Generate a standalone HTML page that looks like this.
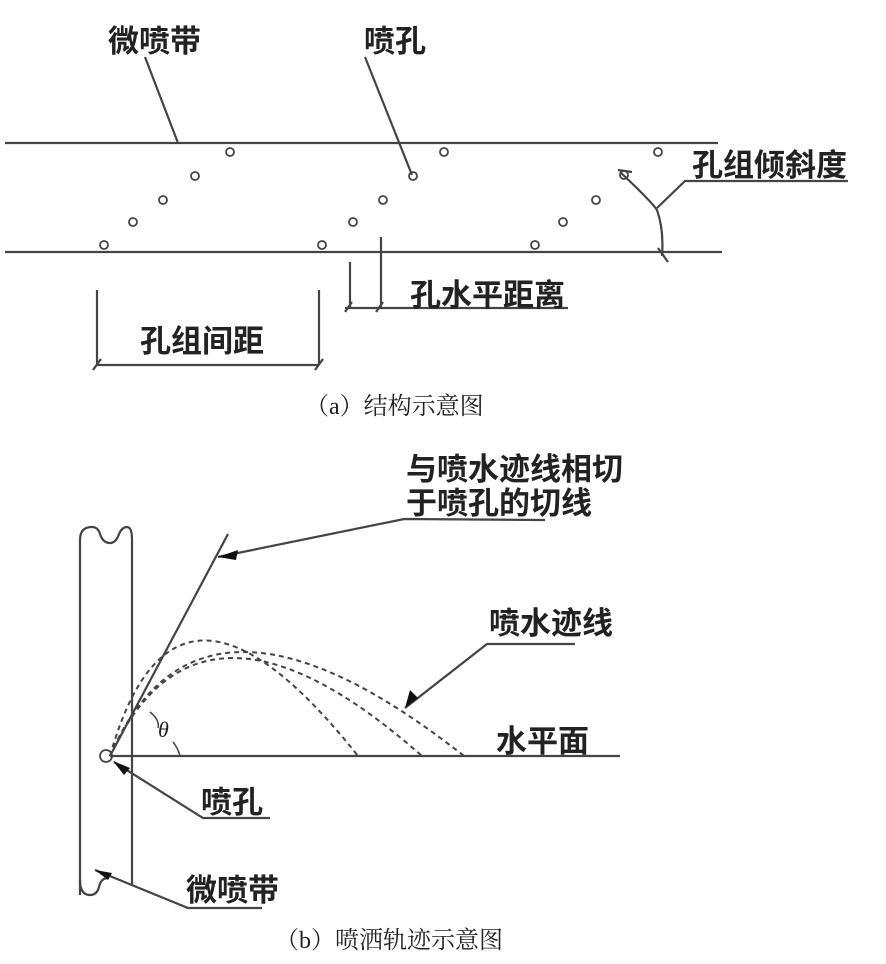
<!DOCTYPE html>
<html><head><meta charset="utf-8"><style>
html,body{margin:0;padding:0;background:#fff;}
svg{display:block;}
.t{font-family:"Liberation Sans","Noto Sans CJK SC",sans-serif;font-weight:bold;font-size:31px;fill:#222;}
.c{font-family:"Liberation Serif","Noto Serif CJK SC",serif;font-size:24px;fill:#222;}
</style></head><body>
<svg width="886" height="964" viewBox="0 0 886 964" xmlns="http://www.w3.org/2000/svg">
<g stroke="#444" stroke-width="2.2" fill="none">
<!-- (a) -->
<line x1="5" y1="143" x2="718" y2="143"/>
<line x1="5" y1="252" x2="722" y2="252"/>
<g stroke-width="1.8">
<circle cx="230" cy="152" r="4"/><circle cx="195" cy="176" r="4"/><circle cx="163" cy="200" r="4"/><circle cx="133" cy="222" r="4"/><circle cx="104" cy="245" r="4"/>
<circle cx="444" cy="152" r="4"/><circle cx="413" cy="176" r="4"/><circle cx="383" cy="200" r="4"/><circle cx="353" cy="222" r="4"/><circle cx="322" cy="245" r="4"/>
<circle cx="658" cy="152" r="4"/><circle cx="624" cy="175" r="4"/><circle cx="596" cy="200" r="4"/><circle cx="563" cy="222" r="4"/><circle cx="535" cy="245" r="4"/>
</g>
<line x1="145" y1="57" x2="178" y2="143"/>
<line x1="365" y1="57" x2="412" y2="175"/>
<path d="M620 172 Q650 200 657 210 Q664 230 662 256"/>
<line x1="618" y1="170" x2="632" y2="172"/>
<line x1="658" y1="248" x2="668" y2="262"/>
<polyline points="657,208 685,181 848,181"/>
<line x1="350" y1="262" x2="350" y2="308"/>
<line x1="381" y1="237" x2="381" y2="308"/>
<line x1="345" y1="308" x2="568" y2="308"/>
<line x1="345" y1="312" x2="352" y2="302"/>
<line x1="376" y1="312" x2="383" y2="302"/>
<line x1="97" y1="290" x2="97" y2="365"/>
<line x1="319" y1="290" x2="319" y2="365"/>
<line x1="97" y1="365" x2="319" y2="365"/>
<line x1="93" y1="370" x2="101" y2="359"/>
<line x1="315" y1="370" x2="323" y2="359"/>
<!-- (b) -->
<path d="M80 895 L80 540 Q80 527 92 527 Q98 527 100 534 Q103 543 110 543 Q116 543 119 534 Q122 527 127 527 Q132 527 132 540 L132 885"/>
<path d="M80 880 Q80 895 90 895 Q97 895 99 887 Q101 878 108 878"/>
<circle cx="106" cy="756" r="6" stroke-width="1.8"/>
<line x1="110" y1="756" x2="620" y2="756"/>
<line x1="110" y1="756" x2="228" y2="534"/>
<polyline points="545,520 404,519 218,557"/>
<g stroke-dasharray="5,4" stroke-width="2">
<path d="M110 756 Q175 525 358 756"/>
<path d="M110 756 Q200 560 422 756"/>
<path d="M110 756 Q200 548 464 756"/>
</g>
<polyline points="575,644 487,644 405,708"/>
<path d="M150 712 Q160 720 158 728" stroke-width="1.5"/>
<path d="M173 742 Q178 748 180 756" stroke-width="1.5"/>
<polyline points="270,818 203,818 114,762"/>
<polyline points="262,908 188,908 95,870"/>
</g>
<g fill="#111">
<polygon points="218,557 238,550 236,560"/>
<polygon points="405,708 410,690 418,698"/>
<polygon points="113,761 130,768 124,775"/>
<polygon points="95,870 112,873 108,880"/>
</g>
<text class="t" x="108" y="52">微喷带</text>
<text class="t" x="364" y="52">喷孔</text>
<text class="t" x="692" y="176">孔组倾斜度</text>
<text class="t" x="410" y="306">孔水平距离</text>
<text class="t" x="140" y="352">孔组间距</text>
<text class="c" x="305" y="414">（a）结构示意图</text>
<text class="t" x="406" y="480">与喷水迹线相切</text>
<text class="t" x="406" y="514">于喷孔的切线</text>
<text class="t" x="489" y="634">喷水迹线</text>
<text class="t" x="496" y="752">水平面</text>
<text x="158" y="737" font-family="Liberation Serif,serif" font-style="italic" font-size="22" fill="#222">θ</text>
<text class="t" x="201" y="813">喷孔</text>
<text class="t" x="186" y="901">微喷带</text>
<text class="c" x="275" y="948">（b）喷洒轨迹示意图</text>
</svg>
</body></html>
